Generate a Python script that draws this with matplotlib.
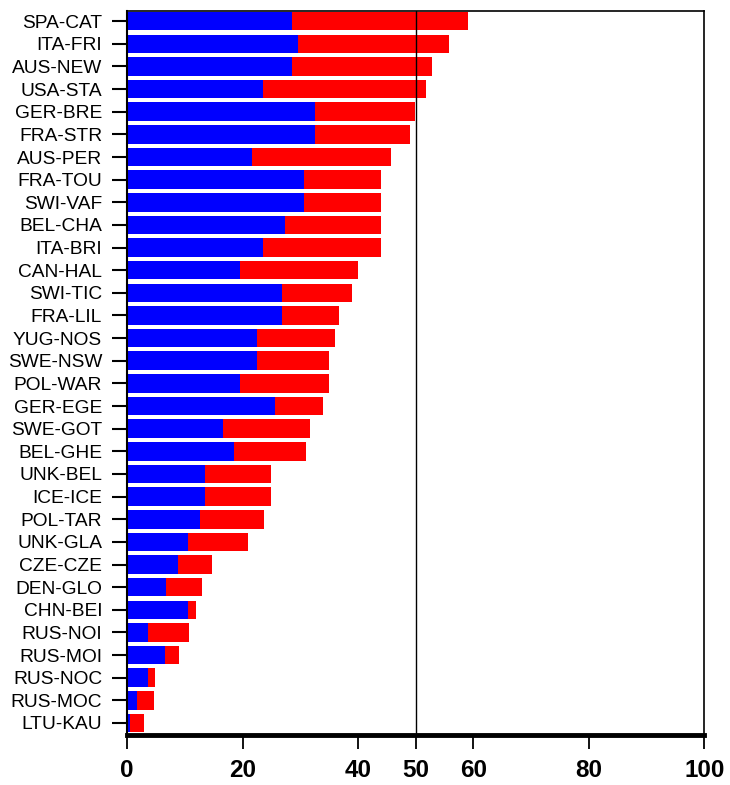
import numpy as np
import matplotlib
matplotlib.use('Agg')
import matplotlib.pyplot as plt

# datos (de arriba hacia abajo)
etiquetas = ['SPA-CAT', 'ITA-FRI', 'AUS-NEW', 'USA-STA', 'GER-BRE', 'FRA-STR',
             'AUS-PER', 'FRA-TOU', 'SWI-VAF', 'BEL-CHA', 'ITA-BRI', 'CAN-HAL',
             'SWI-TIC', 'FRA-LIL', 'YUG-NOS', 'SWE-NSW', 'POL-WAR', 'GER-EGE',
             'SWE-GOT', 'BEL-GHE', 'UNK-BEL', 'ICE-ICE', 'POL-TAR', 'UNK-GLA',
             'CZE-CZE', 'DEN-GLO', 'CHN-BEI', 'RUS-NOI', 'RUS-MOI', 'RUS-NOC',
             'RUS-MOC', 'LTU-KAU']
azul = [28.5, 29.6, 28.5, 23.5, 32.5, 32.5, 21.7, 30.7, 30.7, 27.4, 23.5, 19.6,
        26.8, 26.8, 22.5, 22.5, 19.6, 25.7, 16.7, 18.5, 13.5, 13.5, 12.7, 10.6,
        8.8, 6.7, 10.6, 3.7, 6.6, 3.7, 1.7, 0.5]
total = [59.0, 55.7, 52.9, 51.8, 49.9, 49.0, 45.7, 43.9, 43.9, 43.9, 43.9, 40.0,
         38.9, 36.7, 36.0, 34.9, 34.9, 33.9, 31.7, 31.0, 24.9, 24.9, 23.8, 20.9,
         14.8, 13.0, 11.9, 10.8, 9.0, 4.8, 4.7, 2.9]
rojo = [t - a for t, a in zip(total, azul)]
xticks = [0, 20, 40, 50, 60, 80, 100]

plt.rcParams['font.family'] = ['Liberation Sans', 'DejaVu Sans']

fig = plt.figure(figsize=(7.3, 7.85), dpi=100)
ax = fig.add_axes([0.174, 0.0637, 0.791, 0.9223])

y = np.arange(len(etiquetas))
ax.barh(y, azul, height=0.82, color='#0000ff', edgecolor='none')
ax.barh(y, rojo, left=azul, height=0.82, color='#ff0000', edgecolor='none')
ax.axvline(50, color='black', linewidth=1.0)

ax.set_xlim(0, 100)
ax.set_ylim(31.53, -0.45)
ax.set_yticks(y)
ax.set_yticklabels(etiquetas, fontsize=13.8)
ax.set_xticks(xticks)
ax.set_xticklabels([str(v) for v in xticks], fontsize=17.5, fontweight='bold')

ax.tick_params(axis='y', length=11, width=1.5, pad=7)
ax.tick_params(axis='x', length=10, width=1.3, pad=7)
ax.spines['bottom'].set_linewidth(3.5)
ax.spines['left'].set_linewidth(1.5)
ax.spines['top'].set_linewidth(1.2)
ax.spines['right'].set_linewidth(1.2)

plt.savefig('out.png', dpi=100)
